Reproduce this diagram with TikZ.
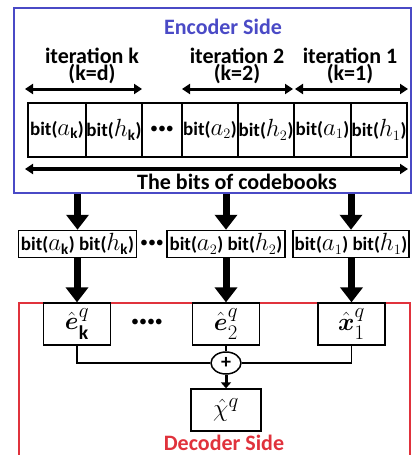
\documentclass[tikz,border=0pt]{standalone}
\usepackage{amsmath,amssymb}
\usepackage{fontspec}
\setmainfont{Carlito}
\usetikzlibrary{arrows.meta,positioning,shapes.geometric,calc}
\definecolor{EncBlue}{HTML}{4A4AC6}
\definecolor{DecRed}{HTML}{E0323C}
\DeclareMathSizes{19}{23}{15}{12}

\begin{document}
\begin{tikzpicture}[
  x=1pt, y=-1pt,
  head/.style={font=\fontsize{22}{16}\selectfont\bfseries, align=center, inner sep=0pt},
  cell/.style={draw, line width=1.3pt, minimum height=54pt, inner sep=0pt, outer sep=0pt, font=\fontsize{19}{19}\selectfont\bfseries},
  bitbox/.style={draw, line width=1.5pt, minimum width=118pt, minimum height=27pt, inner sep=0pt, font=\fontsize{19}{19}\selectfont\bfseries},
  outbox/.style={draw, line width=1.3pt, minimum width=67pt, minimum height=42pt, inner sep=0pt, font=\fontsize{28}{28}\selectfont},
  dotrow/.style={font=\fontsize{16}{16}\selectfont, inner sep=0pt},
  span/.style={{Triangle[length=8pt,width=10pt]}-{Triangle[length=8pt,width=10pt]}, line width=3pt},
  bigarr/.style={-{Triangle[length=15pt,width=22pt]}, line width=7pt},
  wire/.style={line width=1.3pt}
]
\useasboundingbox (0,0) rectangle (412,455);

% encoder side
\node[draw=EncBlue, line width=1.8pt, minimum width=397pt, minimum height=185pt, inner sep=0pt] (enc) at (212.5,100.5) {};
\node[head, text=EncBlue] (enctitle) at (223,27) {Encoder Side};

\node[cell, minimum width=58pt, anchor=west] (ak) at (28,130) {bit($a_{\text{k}}$)};
\node[cell, minimum width=56pt, right=0pt of ak] (hk) {bit($h_{\text{k}}$)};
\node[cell, minimum width=40pt, right=0pt of hk, font=\fontsize{16}{16}\selectfont] (dots1) {\textbullet\textbullet\textbullet};
\node[cell, minimum width=56pt, right=0pt of dots1] (a2) {bit($a_2$)};
\node[cell, minimum width=56pt, right=0pt of a2] (h2) {bit($h_2$)};
\node[cell, minimum width=57pt, right=0pt of h2] (a1) {bit($a_1$)};
\node[cell, minimum width=56pt, right=0pt of a1] (h1) {bit($h_1$)};

\node[head] (itk) at (92,66) {iteration k\\(k=d)};
\node[head] (it2) at (237,66) {iteration 2\\(k=2)};
\node[head] (it1) at (350,66) {iteration 1\\(k=1)};

\coordinate (kL) at ([xshift=-3pt, yshift=14pt]ak.north west);
\coordinate (kR) at ([yshift=14pt]hk.north east);
\coordinate (tL) at ([yshift=14pt]a2.north west);
\coordinate (tR) at ([xshift=-1pt, yshift=14pt]h2.north east);
\coordinate (oL) at ([xshift=1pt, yshift=14pt]a1.north west);
\coordinate (oR) at ([xshift=1pt, yshift=14pt]h1.north east);
\draw[span] (kL) -- (kR);
\draw[span] (tL) -- (tR);
\draw[span] (oL) -- (oR);

\coordinate (allL) at ([xshift=-3pt, yshift=-12pt]ak.south west);
\coordinate (allR) at ([xshift=1pt, yshift=-12pt]h1.south east);
\draw[span, line width=3.6pt] (allL) -- (allR);
\node[head] (codebooks) at (237,182) {The bits of codebooks};

% received bits
\node[bitbox] (mk) at (77.5,244) {bit($a_{\text{k}}$) bit($h_{\text{k}}$)};
\node[dotrow] (dots2) at (152,244) {\textbullet\textbullet\textbullet};
\node[bitbox] (m2) at (226,244) {bit($a_2$) bit($h_2$)};
\node[bitbox, minimum width=116pt] (m1) at (351,244) {bit($a_1$) bit($h_1$)};

\draw[bigarr] (enc.south -| mk) -- (mk.north);
\draw[bigarr] (enc.south -| m2) -- (m2.north);
\draw[bigarr] (enc.south -| m1) -- (m1.north);

% decoder side
\node[draw=DecRed, line width=1.8pt, minimum width=391pt, minimum height=200pt, inner sep=0pt, anchor=north west] (dec) at (18,302) {};

\node[outbox] (ek) at (77,324) {$\hat{\boldsymbol{e}}^{q}_{\textbf{k}}$};
\node[dotrow] (dots3) at (147,323) {\textbullet\textbullet\textbullet\textbullet};
\node[outbox] (e2) at (226,324) {$\hat{\boldsymbol{e}}^{q}_{2}$};
\node[outbox] (x1) at (351.5,324) {$\hat{\boldsymbol{x}}^{q}_{1}$};

\draw[bigarr] (mk.south -| ek) -- (ek.north);
\draw[bigarr] (m2.south -| e2) -- (e2.north);
\draw[bigarr] (m1.south -| x1) -- (x1.north);

\node[draw, ellipse, line width=1.5pt, minimum width=30pt, minimum height=22pt, inner sep=0pt, font=\fontsize{20}{20}\selectfont\bfseries] (sum) at (226,363) {+};
\draw[wire] (ek.south) |- (sum.west);
\draw[wire] (x1.south) |- (sum.east);
\draw[wire] (e2.south) -- (sum.north);

\node[outbox, minimum width=70pt] (xq) at (226,410) {$\hat{\chi}^{q}$};
\draw[-{Triangle[length=6pt,width=10pt]}, line width=3pt] (sum.south) -- (xq.north);

\node[head, text=DecRed] (dectitle) at (224,443) {Decoder Side};
\end{tikzpicture}
\end{document}
